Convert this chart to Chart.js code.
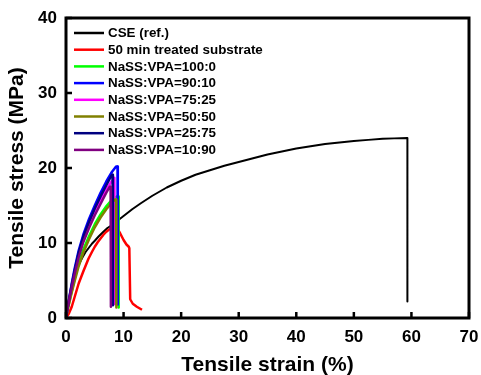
<!DOCTYPE html>
<html><head><meta charset="utf-8">
<script src="https://cdn.jsdelivr.net/npm/chart.js@4.4.0/dist/chart.umd.min.js"></script>
<style>html,body{margin:0;padding:0;background:#fff}#wrap{width:481px;height:375px}</style>
</head><body><div id="wrap"><canvas id="c" width="481" height="375"></canvas></div>
<script>
const seriesLabels = ["CSE (ref.)","50 min treated substrate","NaSS:VPA=100:0","NaSS:VPA=90:10","NaSS:VPA=75:25","NaSS:VPA=50:50","NaSS:VPA=25:75","NaSS:VPA=10:90"];
const seriesColors = ["#000000","#ff0000","#00ff00","#0000ff","#ff00ff","#808000","#000080","#800080"];
const xTicks = [0,10,20,30,40,50,60,70];
const yTicks = [0,10,20,30,40];

const cseStrain = [0,0.25,0.5,0.75,1,1.3,1.6,2,2.4,2.8,3.4,4,4.5,5,5.7,6.5,7.2,8,9,10,11.5,13,15,17.5,20,22.5,25,27.5,30,32.5,35,37.5,40,42.5,45,47.5,50,52.5,55,57,59.3,59.3];
const cseStress = [0,1.2,2.3,3.3,4.1,5.0,5.8,6.7,7.4,8.0,8.8,9.4,9.9,10.3,10.9,11.5,12.0,12.4,13.0,13.6,14.5,15.3,16.3,17.4,18.3,19.1,19.7,20.3,20.8,21.3,21.8,22.2,22.6,22.9,23.2,23.4,23.6,23.75,23.9,23.95,24.0,2.2];
const redStrain = [0,0.5,1,1.5,2.2,3,3.9,4.5,5,5.5,6,6.5,7,7.5,8,8.6,9,9.4,10,10.5,10.9,11,11.15,11.6,12.3,13.2];
const redStress = [0,0.6,1.5,2.8,4.6,6.2,7.9,8.8,9.5,10.1,10.6,11.1,11.5,11.8,12.0,12.1,11.8,11.3,10.4,9.8,9.5,9.3,2.5,1.9,1.5,1.1];
const s100Strain = [0,0.25,0.5,0.75,1,1.5,2.2,3,4,5,6,7,8,8.8,9.1,9.15];
const s100Stress = [0,1.0,1.9,2.8,3.6,5.2,7.3,9.1,10.9,12.5,13.8,14.9,15.8,16.2,16.2,1.4];
const s90Strain = [0,0.25,0.5,0.75,1,1.5,2.2,3,4,5,6,7,8,8.7,8.95,9.0];
const s90Stress = [0,1.3,2.4,3.5,4.6,6.6,9.0,11.1,13.2,15.0,16.7,18.2,19.5,20.2,20.2,1.8];
const s75Strain = [0,0.25,0.5,0.75,1,1.5,2.2,3,4,5,6,7,8,8.4,8.5,8.55];
const s75Stress = [0,1.2,2.2,3.2,4.2,6.0,8.3,10.3,12.3,14.1,15.7,17.1,18.3,18.7,18.7,1.7];
const s50Strain = [0,0.25,0.5,0.75,1,1.5,2.2,3,4,5,6,7,8,8.5,8.7,8.75];
const s50Stress = [0,0.95,1.8,2.6,3.4,4.9,6.9,8.7,10.5,12.1,13.4,14.5,15.4,15.8,15.8,1.4];
const s25Strain = [0,0.25,0.5,0.75,1,1.5,2.2,3,4,5,6,7,7.9,8.1,8.15];
const s25Stress = [0,1.25,2.3,3.4,4.4,6.3,8.7,10.8,12.8,14.6,16.2,17.7,19.0,19.1,1.7];
const s10Strain = [0,0.25,0.5,0.75,1,1.5,2.2,3,4,5,6,7,7.6,7.75,7.8];
const s10Stress = [0,1.2,2.2,3.2,4.1,5.9,8.1,10.1,12.0,13.7,15.2,16.7,17.5,17.5,1.5];

const strains = [cseStrain,redStrain,s100Strain,s90Strain,s75Strain,s50Strain,s25Strain,s10Strain];
const stresses = [cseStress,redStress,s100Stress,s90Stress,s75Stress,s50Stress,s25Stress,s10Stress];

const datasets = seriesLabels.map((lab,i)=>({
  label: lab,
  data: strains[i].map((x,j)=>({x:x,y:stresses[i][j]})),
  borderColor: seriesColors[i],
  backgroundColor: seriesColors[i],
  borderWidth: i===0?2:2.5,
  borderJoinStyle: 'round',
  pointRadius: 0,
  showLine: true,
  tension: 0,
  fill: false
})).reverse();

const FONT = "'Liberation Sans', Arial, sans-serif";

const framePlugin = {
  id: 'frame',
  afterDatasetsDraw(chart){
    const {ctx, chartArea:a, scales:{x,y}} = chart;
    ctx.save();
    ctx.strokeStyle = '#000';
    ctx.lineWidth = 3;
    ctx.strokeRect(a.left, a.top, a.right-a.left, a.bottom-a.top);
    ctx.lineWidth = 2.5;
    ctx.beginPath();
    x.ticks.forEach(t=>{ const px = x.getPixelForValue(t.value); ctx.moveTo(px,a.bottom); ctx.lineTo(px,a.bottom-6); });
    y.ticks.forEach(t=>{ const py = y.getPixelForValue(t.value); ctx.moveTo(a.left,py); ctx.lineTo(a.left+6,py); });
    ctx.stroke();
    // legend
    const items = chart.data.datasets.slice().reverse();
    ctx.font = "bold 13.4px " + FONT;
    ctx.textBaseline = 'middle';
    ctx.textAlign = 'left';
    items.forEach((d,i)=>{
      const yy = 33 + i*16.7;
      ctx.strokeStyle = d.borderColor;
      ctx.lineWidth = 2.5;
      ctx.beginPath(); ctx.moveTo(74,yy); ctx.lineTo(104,yy); ctx.stroke();
      ctx.fillStyle = '#000';
      ctx.fillText(d.label, 108, yy+0.5);
    });
    ctx.restore();
  }
};

new Chart(document.getElementById('c'), {
  type: 'scatter',
  data: { datasets },
  options: {
    responsive: false,
    animation: false,
    devicePixelRatio: 1,
    layout: { padding: { top: 18, right: 12, left: 0, bottom: 0 } },
    plugins: { legend: { display: false }, tooltip: { enabled: false } },
    scales: {
      x: {
        type: 'linear', min: 0, max: 70,
        afterBuildTicks(s){ s.ticks = xTicks.map(v=>({value:v})); },
        afterFit(s){ s.height = 57; s.paddingLeft = 0; s.paddingRight = 0; },
        grid: { display: false, drawTicks: false },
        border: { display: false },
        ticks: { color: '#000', padding: 9, maxRotation: 0, font: { family: FONT, weight: 'bold', size: 17 } },
        title: { display: true, text: 'Tensile strain (%)', color: '#000', padding: { top: 0, bottom: -3 }, font: { family: FONT, weight: 'bold', size: 21 } }
      },
      y: {
        type: 'linear', min: 0, max: 40,
        afterBuildTicks(s){ s.ticks = yTicks.map(v=>({value:v})); },
        afterFit(s){ s.width = 66; s.paddingTop = 0; s.paddingBottom = 0; },
        grid: { display: false, drawTicks: false },
        border: { display: false },
        ticks: { color: '#000', padding: 9, font: { family: FONT, weight: 'bold', size: 17 } },
        title: { display: true, text: 'Tensile stress (MPa)', color: '#000', padding: { top: 5, bottom: 0 }, font: { family: FONT, weight: 'bold', size: 21 } }
      }
    }
  },
  plugins: [framePlugin]
});
</script></body></html>
